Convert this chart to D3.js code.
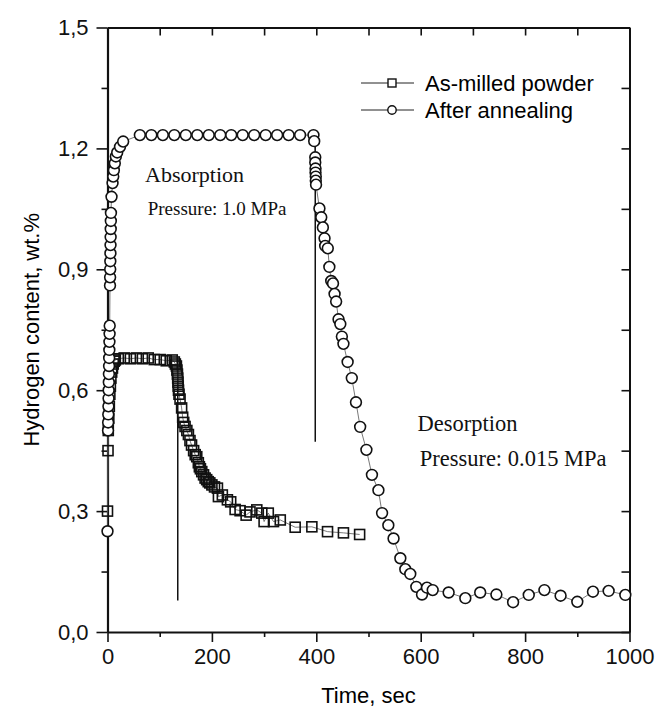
<!DOCTYPE html>
<html>
<head>
<meta charset="utf-8">
<script src="https://cdn.jsdelivr.net/npm/d3@7"></script>
<style>
  body { margin: 0; background: #fff; }
  svg { display: block; }
  .tick text { font-family: "Liberation Sans", Arial, sans-serif; font-size: 22px; fill: #111; }
</style>
</head>
<body>
<svg id="chart"></svg>
<script>
/* Data: [time (sec), hydrogen content (wt.%)] */
const asMilled = [
  [0, 0.30], [1, 0.45], [1.5, 0.50], [2.5, 0.53], [3.5, 0.56], [4.5, 0.59], [5.5, 0.61],
  [6.5, 0.63], [8, 0.645], [9.5, 0.655], [11, 0.665], [13, 0.672], [15, 0.675],
  [20.7, 0.678], [32, 0.68], [43.8, 0.678], [55.3, 0.68], [66.8, 0.678], [78, 0.68],
  [89.6, 0.676], [101, 0.676], [112.5, 0.673], [124, 0.675],
  [128, 0.67], [130, 0.665], [132, 0.66], [133, 0.65], [134, 0.64], [134.5, 0.63],
  [135, 0.62], [135.5, 0.61], [136, 0.60], [137, 0.59], [139, 0.578], [142, 0.556],
  [144, 0.533], [146, 0.52], [148.6, 0.51], [152, 0.50], [155, 0.49], [158, 0.475],
  [161, 0.464], [165, 0.45], [168, 0.44], [171, 0.435], [174, 0.42], [176, 0.41],
  [178, 0.405], [180.6, 0.398], [184, 0.39], [187, 0.382], [190, 0.378], [193, 0.373],
  [196, 0.37], [200, 0.365], [205, 0.36], [210.6, 0.357], [212.5, 0.336], [220, 0.34],
  [229.7, 0.328], [236, 0.323], [244.5, 0.304], [254, 0.301], [265.6, 0.29], [273, 0.298],
  [286, 0.303], [295.6, 0.295], [300, 0.274], [308, 0.295], [318, 0.274], [331, 0.278],
  [359.5, 0.26], [391.5, 0.261], [421.5, 0.249], [452, 0.246], [483, 0.242]
];

const annealed = [
  [0, 0.25],
  [1, 0.50], [1.2, 0.52], [1.5, 0.54], [1.8, 0.56], [2, 0.58], [2.2, 0.60], [2.5, 0.62],
  [2.7, 0.64], [3, 0.66], [3.2, 0.68], [3.5, 0.70], [3.7, 0.72], [4, 0.74], [4.2, 0.76],
  [4.8, 0.86], [5, 0.88], [5.2, 0.90], [5.4, 0.92], [5.6, 0.94], [5.8, 0.96], [6, 0.98],
  [6.2, 1.00], [6.4, 1.02], [6.6, 1.04],
  [7.7, 1.08], [9.7, 1.114], [11, 1.13], [12.2, 1.146], [14, 1.163], [16, 1.18],
  [18.6, 1.19], [24, 1.204], [30, 1.217],
  [62, 1.233], [84, 1.233], [106, 1.233], [128, 1.233], [150, 1.233], [172, 1.233],
  [194, 1.233], [216, 1.233], [237, 1.233], [259, 1.233], [281, 1.233], [303, 1.233],
  [325, 1.233], [347, 1.233], [369, 1.233], [394.6, 1.233], [396, 1.218],
  [398, 1.178], [398, 1.165], [398.5, 1.15], [398.5, 1.14], [399, 1.13], [399, 1.12],
  [399.5, 1.11],
  [406, 1.051], [409.5, 1.029], [412.6, 1.004], [415.8, 0.977], [417, 0.958], [422, 0.952],
  [425, 0.906], [428.6, 0.871], [432, 0.865], [435, 0.839], [438, 0.82], [442.6, 0.776],
  [446, 0.764], [449, 0.733], [452, 0.715], [460, 0.67], [468, 0.63], [476, 0.57],
  [484, 0.509], [496, 0.452], [506.6, 0.39], [519, 0.352], [526, 0.295], [538, 0.265],
  [548, 0.232], [561, 0.183], [570.5, 0.156], [580, 0.144], [591.6, 0.112], [602.5, 0.093],
  [612, 0.11], [623, 0.104], [653.5, 0.098], [685.5, 0.084], [714, 0.098], [745, 0.093],
  [777, 0.074], [807, 0.092], [837, 0.104], [868, 0.09], [900, 0.075], [930, 0.1],
  [960, 0.102], [992, 0.092]
];

/* vertical lines where pressure was switched: [time, top, bottom] */
const switchLines = [[134.6, 0.675, 0.078], [398, 1.233, 0.472]];

const xMajor = [0, 200, 400, 600, 800, 1000];
const xMinor = [100, 300, 500, 700, 900];
const yMajor = [0, 0.3, 0.6, 0.9, 1.2, 1.5];
const yMinor = [0.15, 0.45, 0.75, 1.05, 1.35];

const seriesNames = ["As-milled powder", "After annealing"];
const notes = [
  { text: "Absorption", t: 72, v: 1.116, size: 22 },
  { text: "Pressure: 1.0 MPa", t: 77, v: 1.035, size: 19 },
  { text: "Desorption", t: 594, v: 0.50, size: 22.5 },
  { text: "Pressure: 0.015 MPa", t: 598, v: 0.413, size: 22.5 }
];

/* Layout */
const width = 667, height = 707;
const plot = { left: 107.5, right: 629.5, top: 27.5, bottom: 632 };

const svg = d3.select("#chart").attr("width", width).attr("height", height);

const x = d3.scaleLinear().domain([0, 1000]).range([plot.left, plot.right]);
const y = d3.scaleLinear().domain([0, 1.5]).range([plot.bottom, plot.top]);
const comma = d => d3.format(".1f")(d).replace(".", ",");

function styleAxis(g, sw) {
  g.select(".domain").attr("stroke", "#111").attr("stroke-width", sw);
  g.selectAll(".tick line").attr("stroke", "#111").attr("stroke-width", 1.6);
}

/* bottom axis */
svg.append("g").attr("transform", `translate(0,${plot.bottom})`)
  .call(d3.axisBottom(x).tickValues(xMajor).tickSize(10).tickSizeOuter(0).tickPadding(6).tickFormat(d3.format("d")))
  .call(g => styleAxis(g, 2.2));
svg.append("g").attr("transform", `translate(0,${plot.bottom})`)
  .call(d3.axisBottom(x).tickValues(xMinor).tickSize(5).tickFormat(""))
  .call(g => { g.select(".domain").remove(); styleAxis(g, 0); });

/* left axis */
svg.append("g").attr("transform", `translate(${plot.left},0)`)
  .call(d3.axisLeft(y).tickValues(yMajor).tickSize(11).tickSizeOuter(0).tickPadding(8).tickFormat(comma))
  .call(g => styleAxis(g, 2.2));
svg.append("g").attr("transform", `translate(${plot.left},0)`)
  .call(d3.axisLeft(y).tickValues(yMinor).tickSize(6).tickFormat(""))
  .call(g => { g.select(".domain").remove(); styleAxis(g, 0); });

/* top and right axes, ticks inward */
svg.append("g").attr("transform", `translate(0,${plot.top})`)
  .call(d3.axisTop(x).tickValues(xMajor.concat(xMinor)).tickSize(-8).tickSizeOuter(0).tickFormat(""))
  .call(g => styleAxis(g, 2));
svg.append("g").attr("transform", `translate(${plot.right},0)`)
  .call(d3.axisRight(y).tickValues(yMajor.concat(yMinor)).tickSize(-8).tickSizeOuter(0).tickFormat(""))
  .call(g => styleAxis(g, 2));

/* axis titles */
svg.append("text")
  .attr("x", (plot.left + plot.right) / 2).attr("y", 703)
  .attr("text-anchor", "middle")
  .style("font-family", "Liberation Sans, Arial, sans-serif").style("font-size", "22px")
  .text("Time, sec");

svg.append("text")
  .attr("transform", `translate(39,${(plot.top + plot.bottom) / 2}) rotate(-90)`)
  .attr("text-anchor", "middle")
  .style("font-family", "Liberation Sans, Arial, sans-serif").style("font-size", "22px")
  .text("Hydrogen content, wt.%");

/* switch lines */
svg.append("g").selectAll("line").data(switchLines).join("line")
  .attr("x1", d => x(d[0])).attr("x2", d => x(d[0]))
  .attr("y1", d => y(d[1])).attr("y2", d => y(d[2]))
  .attr("stroke", "#111").attr("stroke-width", 1.5);

/* series lines */
const line = d3.line().x(d => x(d[0])).y(d => y(d[1]));
[asMilled, annealed].forEach(s => {
  svg.append("path").datum(s).attr("d", line)
    .attr("fill", "none").attr("stroke", "#555").attr("stroke-width", 0.8);
});

/* markers */
const sq = 10;
svg.append("g").selectAll("rect").data(asMilled).join("rect")
  .attr("x", d => x(d[0]) - sq / 2).attr("y", d => y(d[1]) - sq / 2)
  .attr("width", sq).attr("height", sq)
  .attr("fill", "none").attr("stroke", "#111").attr("stroke-width", 1.6);

svg.append("g").selectAll("circle").data(annealed).join("circle")
  .attr("cx", d => x(d[0])).attr("cy", d => y(d[1])).attr("r", 5.4)
  .attr("fill", "#fff").attr("stroke", "#111").attr("stroke-width", 1.6);

/* legend */
const legend = svg.append("g");
seriesNames.forEach((name, i) => {
  const ly = 83 + i * 27;
  legend.append("line").attr("x1", 361).attr("x2", 414).attr("y1", ly).attr("y2", ly)
    .attr("stroke", "#222").attr("stroke-width", 1);
  if (i === 0) {
    legend.append("rect").attr("x", 388).attr("y", ly - 4).attr("width", 8).attr("height", 8)
      .attr("fill", "#fff").attr("stroke", "#111").attr("stroke-width", 1.4);
  } else {
    legend.append("circle").attr("cx", 392).attr("cy", ly).attr("r", 4.2)
      .attr("fill", "#fff").attr("stroke", "#111").attr("stroke-width", 1.4);
  }
  legend.append("text").attr("x", 425).attr("y", ly + 8)
    .style("font-family", "Liberation Sans, Arial, sans-serif").style("font-size", "22px")
    .text(name);
});

/* annotations */
svg.append("g").selectAll("text").data(notes).join("text")
  .attr("x", d => x(d.t)).attr("y", d => y(d.v))
  .style("font-family", "Liberation Serif, Times New Roman, serif")
  .style("font-size", d => d.size + "px")
  .attr("fill", "#111")
  .text(d => d.text);
</script>
</body>
</html>
